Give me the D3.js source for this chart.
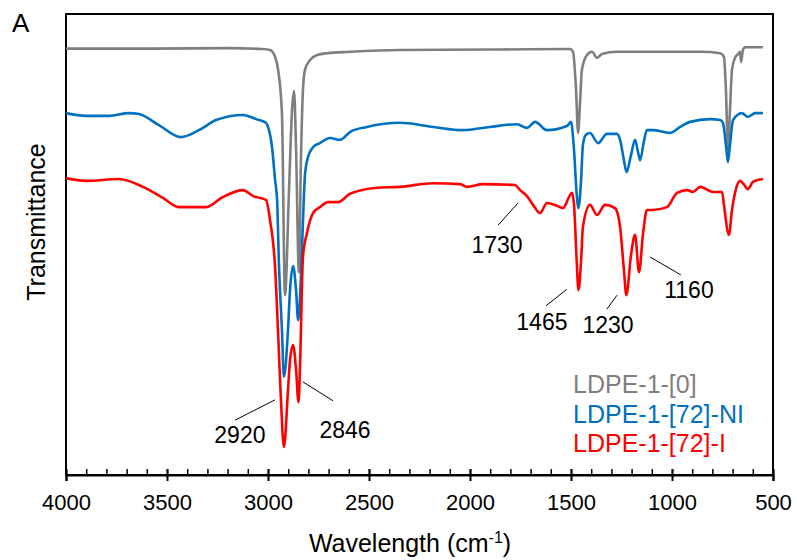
<!DOCTYPE html>
<html>
<head>
<meta charset="utf-8">
<script src="https://cdn.jsdelivr.net/npm/d3@7"></script>
<style>
  body { margin: 0; background: #fff; }
  text { font-family: "Liberation Sans", Arial, sans-serif; }
</style>
</head>
<body>
<svg id="chart"></svg>
<script>
// FTIR spectra, wavenumber (cm-1) vs transmittance (offset, arbitrary units 0-100)

var seriesNames = ["LDPE-1-[0]", "LDPE-1-[72]-NI", "LDPE-1-[72]-I"];
var seriesColors = ["#7f7f7f", "#0070c0", "#ff0000"];

var ldpe0 = [
  [4000, 92.5], [3584, 92.5], [3188, 92.6], [3030, 92.4], [2990, 92.2], [2965, 90.7],
  [2950, 87.9], [2931, 78.5], [2916, 39.0], [2896, 61.8], [2881, 79.2], [2871, 83.3],
  [2861, 70.5], [2847, 44.0], [2837, 68.3], [2827, 83.5], [2817, 87.9], [2792, 90.0],
  [2757, 91.1], [2708, 91.5], [2594, 91.8], [2347, 92.2], [1851, 92.3], [1505, 92.4],
  [1490, 91.8], [1475, 83.5], [1465, 74.2], [1455, 81.0], [1446, 87.9], [1421, 91.1],
  [1396, 91.8], [1371, 90.5], [1347, 91.3], [1272, 91.8], [861, 91.8], [762, 91.5],
  [743, 90.7], [733, 83.5], [723, 70.5], [713, 79.2], [703, 87.9], [688, 90.5],
  [673, 91.3], [663, 91.8], [658, 89.6], [649, 92.2], [639, 92.8], [550, 92.8]
];

var ldpe72NI = [
  [4000, 78.5], [3901, 77.9], [3787, 77.9], [3688, 78.5], [3639, 78.3], [3540, 75.9],
  [3431, 73.3], [3342, 74.8], [3257, 77.0], [3124, 78.1], [3059, 77.2], [3010, 76.4],
  [3000, 75.5], [2980, 71.1], [2965, 64.0], [2955, 59.7], [2946, 46.0], [2931, 31.5],
  [2921, 21.3], [2901, 31.5], [2891, 40.1], [2876, 45.3], [2861, 40.1], [2851, 33.6],
  [2842, 38.0], [2832, 48.8], [2822, 60.7], [2817, 65.1], [2802, 69.0], [2777, 71.1],
  [2743, 72.0], [2693, 73.1], [2644, 72.7], [2594, 74.4], [2510, 75.5], [2347, 76.4],
  [2183, 75.5], [2035, 74.8], [1901, 75.5], [1767, 76.1], [1718, 75.3], [1678, 76.6],
  [1619, 74.8], [1520, 75.7], [1500, 76.6], [1485, 70.5], [1472, 61.0], [1463, 57.9],
  [1450, 64.0], [1441, 71.6], [1426, 73.8], [1406, 74.2], [1366, 72.0], [1322, 74.0],
  [1272, 74.0], [1257, 72.7], [1238, 68.3], [1225, 65.7], [1203, 69.4], [1183, 72.7],
  [1168, 70.0], [1158, 68.3], [1139, 72.4], [1124, 74.8], [1094, 74.8], [1010, 74.2],
  [960, 75.5], [911, 76.6], [812, 77.2], [762, 77.0], [748, 76.4], [733, 71.6],
  [723, 67.9], [713, 71.6], [698, 77.0], [654, 78.5], [624, 77.7], [589, 78.5], [550, 78.5]
];

var ldpe72I = [
  [4000, 64.4], [3901, 63.8], [3738, 64.2], [3619, 62.5], [3520, 60.1], [3441, 58.1],
  [3307, 58.1], [3223, 60.3], [3124, 61.8], [3074, 60.5], [3010, 59.7], [2990, 55.3],
  [2965, 45.1], [2950, 30.8], [2936, 16.3], [2921, 6.1], [2901, 18.4], [2891, 24.9],
  [2876, 28.2], [2861, 22.8], [2849, 15.8], [2842, 22.8], [2827, 47.3], [2807, 52.5],
  [2777, 56.8], [2743, 58.1], [2703, 59.2], [2653, 59.2], [2594, 61.0], [2460, 62.3],
  [2347, 62.5], [2183, 63.3], [2050, 63.1], [2015, 62.5], [1936, 63.1], [1777, 62.9],
  [1752, 61.8], [1718, 60.5], [1688, 58.6], [1653, 56.8], [1619, 59.0], [1569, 58.4],
  [1540, 57.9], [1505, 60.7], [1495, 61.2], [1485, 58.6], [1472, 46.6], [1463, 40.1],
  [1450, 46.6], [1441, 53.8], [1406, 58.6], [1371, 56.4], [1332, 58.6], [1282, 57.9],
  [1257, 53.8], [1238, 44.5], [1226, 39.0], [1203, 47.7], [1183, 52.1], [1163, 44.0],
  [1144, 52.1], [1124, 57.5], [1094, 57.5], [1025, 58.1], [975, 61.2], [926, 61.8],
  [896, 61.4], [861, 62.5], [797, 61.4], [752, 61.4], [743, 58.6], [718, 52.1],
  [703, 57.5], [688, 61.2], [663, 63.8], [649, 63.3], [624, 62.0], [599, 63.6], [550, 64.2]
];

var allSeries = [ldpe0, ldpe72NI, ldpe72I];

var xTicks = [4000, 3500, 3000, 2500, 2000, 1500, 1000, 500];

// peak annotations: label, text anchor [wn, T], leader line from / to [wn, T]
var peakLabels = ["2920", "2846", "1730", "1465", "1230", "1160"];
var peakTextPos = [[3139, 6.9], [2619, 8.0], [1866, 48.2], [1644, 31.5], [1317, 30.8], [916, 38.4]];
var peakLineFrom = [[3163, 11.9], [2827, 20.2], [1861, 54.2], [1624, 36.7], [1322, 36.0], [1109, 47.3]];
var peakLineTo = [[2965, 16.3], [2678, 16.1], [1762, 59.0], [1520, 40.3], [1272, 39.0], [956, 43.4]];

var width = 797, height = 560;
var margin = {top: 14, right: 24, bottom: 85, left: 66};

var svg = d3.select("#chart")
  .attr("width", width)
  .attr("height", height);

var x = d3.scaleLinear()
  .domain([4000, 500])
  .range([margin.left, width - margin.right]);

var y = d3.scaleLinear()
  .domain([0, 100])
  .range([height - margin.bottom, margin.top]);

var plotBottom = height - margin.bottom;

// frame
svg.append("rect")
  .attr("x", margin.left)
  .attr("y", margin.top)
  .attr("width", width - margin.right - margin.left)
  .attr("height", plotBottom - margin.top)
  .style("fill", "none")
  .style("stroke", "#000")
  .style("stroke-width", 2);

// minor ticks (inside only)
svg.append("g")
  .attr("transform", "translate(0," + plotBottom + ")")
  .call(d3.axisBottom(x).tickValues(d3.range(500, 4001, 100)).tickSize(-6).tickFormat(""))
  .call(function(g) {
    g.select(".domain").remove();
    g.selectAll("line").style("stroke", "#000").style("stroke-width", 1.5);
  });

// major ticks (crossing) + labels
var xAxis = svg.append("g")
  .attr("transform", "translate(0," + plotBottom + ")")
  .call(d3.axisBottom(x).tickValues(xTicks).tickSize(6).tickPadding(13).tickFormat(d3.format("d")));

xAxis.select(".domain").style("stroke", "#000").style("stroke-width", 2);
xAxis.selectAll(".tick line")
  .attr("y1", -6)
  .style("stroke", "#000")
  .style("stroke-width", 2);
xAxis.selectAll(".tick text")
  .style("font-size", "22px")
  .style("font-family", "'Liberation Sans', Arial, sans-serif")
  .style("fill", "#000");

// spectra
var line = d3.line()
  .x(function(d) { return x(d[0]); })
  .y(function(d) { return y(d[1]); })
  .curve(d3.curveMonotoneX);

svg.selectAll(".spectrum")
  .data(allSeries)
  .enter()
  .append("path")
  .attr("class", "spectrum")
  .attr("d", line)
  .style("fill", "none")
  .style("stroke", function(d, i) { return seriesColors[i]; })
  .style("stroke-width", 2.6)
  .style("stroke-linejoin", "round");

// peak annotations
svg.selectAll(".peak-line")
  .data(peakLabels)
  .enter()
  .append("line")
  .attr("x1", function(d, i) { return x(peakLineFrom[i][0]); })
  .attr("y1", function(d, i) { return y(peakLineFrom[i][1]); })
  .attr("x2", function(d, i) { return x(peakLineTo[i][0]); })
  .attr("y2", function(d, i) { return y(peakLineTo[i][1]); })
  .style("stroke", "#000")
  .style("stroke-width", 1);

svg.selectAll(".peak-label")
  .data(peakLabels)
  .enter()
  .append("text")
  .attr("x", function(d, i) { return x(peakTextPos[i][0]); })
  .attr("y", function(d, i) { return y(peakTextPos[i][1]); })
  .attr("text-anchor", "middle")
  .style("font-size", "23px")
  .style("fill", "#000")
  .text(function(d) { return d; });

// legend
svg.selectAll(".legend")
  .data(seriesNames)
  .enter()
  .append("text")
  .attr("x", 573)
  .attr("y", function(d, i) { return 393 + i * 29.5; })
  .style("font-size", "25px")
  .style("fill", function(d, i) { return seriesColors[i]; })
  .text(function(d) { return d; });

// axis titles
var xTitle = svg.append("text")
  .attr("x", 410)
  .attr("y", 552)
  .attr("text-anchor", "middle")
  .style("font-size", "25px")
  .style("fill", "#000");
xTitle.append("tspan").text("Wavelength (cm");
xTitle.append("tspan").attr("dy", -9).style("font-size", "16px").text("-1");
xTitle.append("tspan").attr("dy", 9).text(")");

svg.append("text")
  .attr("transform", "translate(45,222) rotate(-90)")
  .attr("text-anchor", "middle")
  .style("font-size", "25px")
  .style("fill", "#000")
  .text("Transmittance");

// panel letter
svg.append("text")
  .attr("x", 12)
  .attr("y", 32)
  .style("font-size", "26px")
  .style("fill", "#000")
  .text("A");
</script>
</body>
</html>
